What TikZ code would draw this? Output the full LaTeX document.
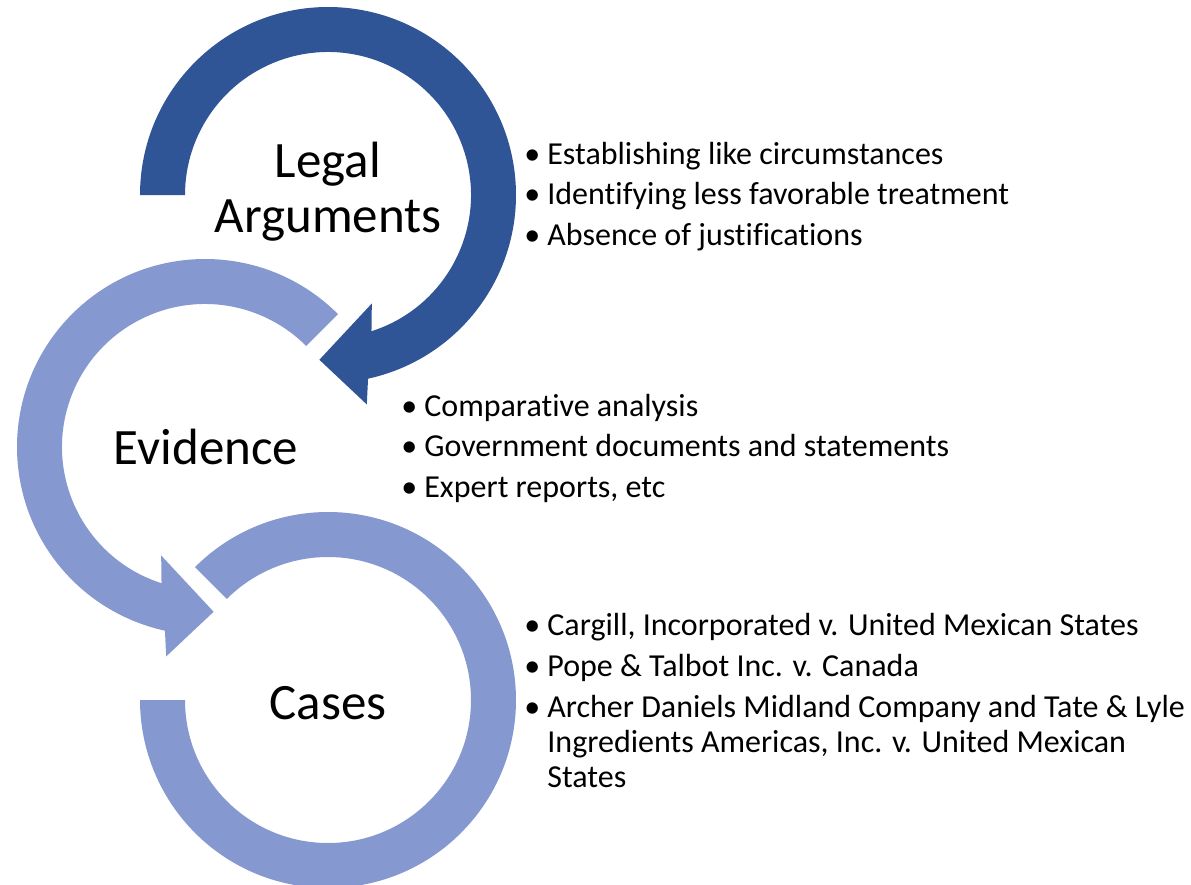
\documentclass[tikz,border=0pt]{standalone}
\usepackage{fontspec}
\setmainfont{Carlito}[Ligatures=NoCommon]
\usetikzlibrary{calc}

\definecolor{darkring}{HTML}{2F5597}
\definecolor{lightring}{HTML}{8599D0}
\newcommand{\itemdot}{\llap{\textbullet\hspace{3.5pt}}}

\begin{document}
\begin{tikzpicture}[x=0.5pt, y=-0.5pt,
    stage/.style={align=center, font=\fontsize{25.5}{27.5}\selectfont},
    point/.style={anchor=base west, inner sep=0pt,
                  font=\fontsize{16}{17.5}\selectfont}]
  \useasboundingbox (0,0) rectangle (1191,885);

  \coordinate (legal) at (328,195);
  \coordinate (evidence) at (205,447);
  \coordinate (cases) at (328,700);

  % rings: outer radius 94pt, inner 71.5pt
  \fill [lightring] ([shift={(135:94pt)}]cases)
    arc [start angle=135, end angle=-180, radius=94pt]
    -- ([shift={(180:71.5pt)}]cases)
    arc [start angle=-180, end angle=135, radius=71.5pt] -- cycle;

  \fill [lightring] ([shift={(45:94pt)}]evidence)
    arc [start angle=45, end angle=257.7, radius=94pt]
    -- ([shift={(259.5:106.5pt)}]evidence) -- ([shift={(273:82.5pt)}]evidence)
    -- ([shift={(248:58.5pt)}]evidence) -- ([shift={(252.3:71.5pt)}]evidence)
    arc [start angle=252.3, end angle=45, radius=71.5pt] -- cycle;

  \fill [darkring] ([shift={(180:94pt)}]legal)
    arc [start angle=180, end angle=-77.7, radius=94pt]
    -- ([shift={(-79.5:106.5pt)}]legal) -- ([shift={(-93:82.5pt)}]legal)
    -- ([shift={(-68:58.5pt)}]legal) -- ([shift={(-72.3:71.5pt)}]legal)
    arc [start angle=-72.3, end angle=180, radius=71.5pt] -- cycle;

  \node [stage] (legaltxt) at (328,192) {Legal\\Arguments};
  \node [stage] (evidencetxt) at (206,447) {Evidence};
  \node [stage] (casestxt) at (328,703) {Cases};

  \node [point] (arg1) at (547,164) {\itemdot Establishing like circumstances};
  \node [point] (arg2) at (547,204.5) {\itemdot Identifying less favorable treatment};
  \node [point] (arg3) at (547,245) {\itemdot Absence of justifications};

  \node [point] (ev1) at (424,416) {\itemdot Comparative analysis};
  \node [point] (ev2) at (424,456.5) {\itemdot Government documents and statements};
  \node [point] (ev3) at (424,497) {\itemdot Expert reports, etc};

  \node [point] (case1) at (547,635) {\itemdot Cargill, Incorporated v. United Mexican States};
  \node [point] (case2) at (547,676) {\itemdot Pope \& Talbot Inc. v. Canada};
  \node [point] (case3) at (547,717) {\itemdot\begin{tabular}[t]{@{}l@{}}
    Archer Daniels Midland Company and Tate \& Lyle\\
    Ingredients Americas, Inc. v. United Mexican\\
    States\end{tabular}};
\end{tikzpicture}
\end{document}
